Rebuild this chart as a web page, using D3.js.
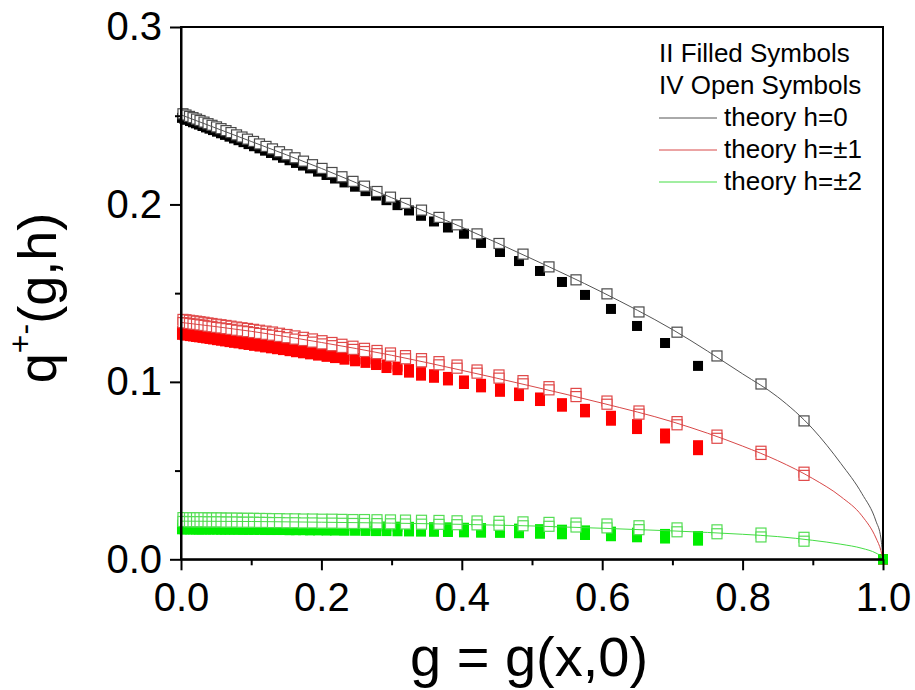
<html>
<head>
  <script src="https://d3js.org/d3.v7.min.js"></script>
  <style>
    body{ margin:0; background:#fff; }
    svg{ display:block; font-family:"Liberation Sans", Arial, sans-serif; }
  </style>
</head>
<body>
  <script type="text/javascript">

    // g positions of the open (IV) and filled (II) symbols
    var gOpen = [0.0028,0.0071,0.0121,0.0171,0.0221,0.0271,0.0328,0.0385,0.0442,0.0506,0.0570,0.0641,0.0712,0.0791,0.0869,0.0947,0.1033,0.1118,0.1211,0.1303,0.1403,0.1510,0.1624,0.1745,0.1873,0.2009,0.2151,0.2293,0.2450,0.2614,0.2792,0.2984,0.3198,0.3426,0.3675,0.3932,0.4217,0.4530,0.4872,0.5242,0.5627,0.6068,0.6524,0.7066,0.7635,0.8262,0.8875];
    var gFilled = [0.0014,0.0050,0.0085,0.0128,0.0171,0.0214,0.0256,0.0306,0.0356,0.0406,0.0456,0.0513,0.0570,0.0627,0.0691,0.0755,0.0819,0.0890,0.0962,0.1040,0.1118,0.1197,0.1282,0.1368,0.1453,0.1546,0.1638,0.1738,0.1838,0.1952,0.2073,0.2194,0.2329,0.2479,0.2628,0.2778,0.2927,0.3084,0.3248,0.3419,0.3604,0.3803,0.4031,0.4274,0.4544,0.4815,0.5114,0.5427,0.5755,0.6125,0.6496,0.6895,0.7365,1.0];

    // IV, open symbols
    var openH0  = [0.2511,0.2504,0.2496,0.2489,0.2481,0.2473,0.2464,0.2455,0.2446,0.2437,0.2427,0.2416,0.2405,0.2392,0.2380,0.2368,0.2355,0.2341,0.2327,0.2313,0.2297,0.2280,0.2263,0.2244,0.2224,0.2203,0.2180,0.2156,0.2130,0.2103,0.2073,0.2041,0.2006,0.1968,0.1927,0.1885,0.1834,0.1780,0.1720,0.1648,0.1575,0.1496,0.1394,0.1280,0.1146,0.0988,0.0780];
    var openHp1 = [0.1352,0.1350,0.1347,0.1344,0.1342,0.1339,0.1336,0.1332,0.1329,0.1325,0.1322,0.1318,0.1314,0.1309,0.1305,0.1301,0.1296,0.1291,0.1286,0.1281,0.1274,0.1267,0.1259,0.1251,0.1242,0.1232,0.1222,0.1212,0.1201,0.1189,0.1177,0.1163,0.1148,0.1131,0.1114,0.1095,0.1067,0.1039,0.1007,0.0973,0.0935,0.0892,0.0836,0.0776,0.0700,0.0609,0.0491];
    var openHm1 = [0.1334,0.1332,0.1329,0.1326,0.1324,0.1321,0.1318,0.1314,0.1311,0.1307,0.1304,0.1300,0.1296,0.1291,0.1287,0.1283,0.1278,0.1273,0.1268,0.1263,0.1256,0.1249,0.1241,0.1233,0.1224,0.1214,0.1204,0.1194,0.1183,0.1171,0.1159,0.1145,0.1130,0.1113,0.1096,0.1077,0.1049,0.1021,0.0989,0.0955,0.0917,0.0874,0.0818,0.0758,0.0682,0.0591,0.0473];
    var openHp2 = [0.0235,0.0235,0.0234,0.0234,0.0234,0.0234,0.0234,0.0233,0.0233,0.0233,0.0233,0.0232,0.0232,0.0232,0.0231,0.0231,0.0231,0.0230,0.0230,0.0229,0.0229,0.0228,0.0228,0.0227,0.0227,0.0226,0.0226,0.0225,0.0224,0.0224,0.0223,0.0222,0.0221,0.0220,0.0219,0.0217,0.0216,0.0214,0.0211,0.0208,0.0204,0.0199,0.0189,0.0177,0.0166,0.0148,0.0124];
    var openHm2 = [0.0213,0.0213,0.0212,0.0212,0.0212,0.0212,0.0212,0.0211,0.0211,0.0211,0.0211,0.0210,0.0210,0.0210,0.0209,0.0209,0.0209,0.0208,0.0208,0.0207,0.0207,0.0206,0.0206,0.0205,0.0205,0.0204,0.0204,0.0203,0.0202,0.0202,0.0201,0.0200,0.0199,0.0198,0.0197,0.0195,0.0194,0.0192,0.0189,0.0186,0.0182,0.0177,0.0167,0.0155,0.0144,0.0126,0.0102];

    // II, filled symbols
    var filledH0  = [0.2488,0.2482,0.2477,0.2470,0.2463,0.2457,0.2450,0.2442,0.2434,0.2427,0.2419,0.2410,0.2401,0.2392,0.2382,0.2372,0.2362,0.2351,0.2340,0.2328,0.2316,0.2303,0.2290,0.2277,0.2263,0.2249,0.2234,0.2219,0.2203,0.2185,0.2166,0.2146,0.2124,0.2100,0.2075,0.2050,0.2024,0.1996,0.1966,0.1936,0.1904,0.1870,0.1835,0.1783,0.1732,0.1681,0.1625,0.1563,0.1490,0.1411,0.1315,0.1219,0.1090,0];
    var filledHp1 = [0.1285,0.1283,0.1281,0.1278,0.1276,0.1273,0.1271,0.1268,0.1265,0.1262,0.1259,0.1255,0.1252,0.1248,0.1244,0.1240,0.1237,0.1232,0.1228,0.1223,0.1219,0.1214,0.1209,0.1204,0.1199,0.1193,0.1187,0.1181,0.1175,0.1168,0.1161,0.1154,0.1145,0.1136,0.1127,0.1115,0.1098,0.1086,0.1072,0.1055,0.1043,0.1028,0.1008,0.0989,0.0964,0.0940,0.0912,0.0880,0.0848,0.0809,0.0762,0.0709,0.0643,0];
    var filledHm1 = [0.1265,0.1263,0.1261,0.1258,0.1256,0.1253,0.1251,0.1248,0.1245,0.1242,0.1239,0.1235,0.1232,0.1228,0.1224,0.1220,0.1217,0.1212,0.1208,0.1203,0.1199,0.1194,0.1189,0.1184,0.1179,0.1173,0.1167,0.1161,0.1155,0.1148,0.1141,0.1134,0.1125,0.1116,0.1107,0.1095,0.1078,0.1066,0.1052,0.1035,0.1023,0.1008,0.0988,0.0969,0.0944,0.0920,0.0892,0.0860,0.0828,0.0781,0.0734,0.0681,0.0615,0];
    var filledHp2 = [0.0195,0.0195,0.0195,0.0195,0.0195,0.0194,0.0194,0.0194,0.0194,0.0194,0.0194,0.0194,0.0193,0.0193,0.0193,0.0193,0.0193,0.0192,0.0192,0.0192,0.0192,0.0191,0.0191,0.0191,0.0191,0.0190,0.0190,0.0190,0.0189,0.0189,0.0188,0.0188,0.0187,0.0187,0.0186,0.0185,0.0185,0.0184,0.0183,0.0182,0.0181,0.0180,0.0178,0.0176,0.0175,0.0173,0.0170,0.0167,0.0163,0.0156,0.0150,0.0143,0.0131,0];
    var filledHm2 = [0.0169,0.0169,0.0169,0.0169,0.0169,0.0168,0.0168,0.0168,0.0168,0.0168,0.0168,0.0168,0.0167,0.0167,0.0167,0.0167,0.0167,0.0166,0.0166,0.0166,0.0166,0.0165,0.0165,0.0165,0.0165,0.0164,0.0164,0.0164,0.0163,0.0163,0.0162,0.0162,0.0161,0.0161,0.0160,0.0159,0.0159,0.0158,0.0157,0.0156,0.0155,0.0154,0.0152,0.0150,0.0149,0.0147,0.0144,0.0141,0.0137,0.0130,0.0124,0.0117,0.0105,0];

    // theory curves
    var theoryG  = [0,0.1,0.2,0.3,0.4,0.5,0.6,0.7,0.8,0.85,0.9,0.94,0.97,0.99,0.997,1];
    var theoryH0 = [0.2505,0.2355,0.2203,0.2038,0.1872,0.1693,0.1505,0.1295,0.1045,0.0915,0.0735,0.0540,0.0370,0.0215,0.0120,0];
    var theoryH1 = [0.1335,0.1285,0.1222,0.1150,0.1065,0.0975,0.0880,0.0775,0.0638,0.0556,0.0455,0.0353,0.0245,0.0120,0.0050,0];
    var theoryH2 = [0.0215,0.0213,0.0209,0.0204,0.0197,0.0188,0.0175,0.0160,0.0141,0.0128,0.0107,0.0085,0.0062,0.0035,0.0018,0.0005];

    var xMajor = [0,0.2,0.4,0.6,0.8,1.0];
    var xMinor = [0.1,0.3,0.5,0.7,0.9];
    var yMajor = [0,0.1,0.2,0.3];
    var yMinor = [0.05,0.15,0.25];

    var legendText = ["II Filled Symbols","IV Open Symbols"];
    var legendLines = ["theory h=0","theory h=\u00b11","theory h=\u00b12"];

    var screen = {width:915, height:690};
    var margins = {top:27, right:32, bottom:130.7, left:181};
    var width = screen.width - margins.left - margins.right;
    var height = screen.height - margins.top - margins.bottom;

    var svg = d3.select("body").append("svg")
        .attr("width", screen.width)
        .attr("height", screen.height);

    var xScale = d3.scaleLinear().domain([0,1]).range([0,width]);
    var yScale = d3.scaleLinear().domain([0,0.3]).range([height,0]);

    var plot = svg.append("g")
        .attr("transform","translate(" + margins.left + "," + margins.top + ")");

    var pts = function(gs, qs){ return gs.map(function(g,i){ return [g, qs[i]]; }); };

    var drawSquares = function(data, fill, stroke){
      plot.append("g").selectAll("rect")
          .data(data)
          .enter()
          .append("rect")
          .attr("x", function(d){ return xScale(d[0]) - 5; })
          .attr("y", function(d){ return yScale(d[1]) - 5; })
          .attr("width", 10)
          .attr("height", 10)
          .attr("fill", fill)
          .attr("stroke", stroke)
          .attr("stroke-width", stroke == "none" ? 0 : 1.2);
    };

    // filled
    drawSquares(pts(gFilled, filledH0), "#000000", "none");
    drawSquares(pts(gFilled, filledHp1), "#ff0000", "none");
    drawSquares(pts(gFilled, filledHm1), "#ff0000", "none");
    drawSquares(pts(gFilled, filledHp2), "#00ee00", "none");
    drawSquares(pts(gFilled, filledHm2), "#00ee00", "none");
    // open
    drawSquares(pts(gOpen, openH0), "#ffffff", "#4a4a4a");
    drawSquares(pts(gOpen, openHp1), "#ffffff", "#e04848");
    drawSquares(pts(gOpen, openHm1), "#ffffff", "#e04848");
    drawSquares(pts(gOpen, openHp2), "#ffffff", "#55dd55");
    drawSquares(pts(gOpen, openHm2), "#ffffff", "#55dd55");

    var line = d3.line()
        .x(function(d){ return xScale(d[0]); })
        .y(function(d){ return yScale(d[1]); })
        .curve(d3.curveMonotoneX);

    var theoryColors = ["#555555","#d84848","#44dd44"];
    [theoryH0, theoryH1, theoryH2].forEach(function(t,i){
      plot.append("path")
          .datum(pts(theoryG, t))
          .attr("d", line)
          .attr("fill","none")
          .attr("stroke", theoryColors[i])
          .attr("stroke-width", 1);
    });

    // axes
    var styleAxis = function(g){
      g.selectAll("path").attr("stroke","#000").attr("stroke-width",2);
      g.selectAll("line").attr("stroke","#000").attr("stroke-width",2);
      g.selectAll("text").attr("font-size",40).attr("fill","#000")
       .attr("font-family",'"Liberation Sans", Arial, sans-serif');
    };

    plot.append("g")
        .attr("transform","translate(0," + height + ")")
        .call(d3.axisBottom(xScale).tickValues(xMinor).tickSize(6).tickFormat(""))
        .call(styleAxis)
        .select(".domain").remove();
    plot.append("g")
        .attr("transform","translate(0," + height + ")")
        .call(d3.axisBottom(xScale).tickValues(xMajor).tickSize(11).tickSizeOuter(0).tickPadding(12).tickFormat(d3.format(".1f")))
        .call(styleAxis);

    plot.append("g")
        .call(d3.axisLeft(yScale).tickValues(yMinor).tickSize(6).tickFormat(""))
        .call(styleAxis)
        .select(".domain").remove();
    plot.append("g")
        .call(d3.axisLeft(yScale).tickValues(yMajor).tickSize(11).tickSizeOuter(0).tickPadding(8).tickFormat(d3.format(".1f")))
        .call(styleAxis);

    // frame
    plot.append("rect")
        .attr("width", width)
        .attr("height", height)
        .attr("fill","none")
        .attr("stroke","#000")
        .attr("stroke-width",2);

    // legend
    var legend = svg.append("g")
        .attr("font-size", 26)
        .attr("fill", "#000");
    legend.selectAll("text.head")
        .data(legendText)
        .enter()
        .append("text")
        .attr("x", 659)
        .attr("y", function(d,i){ return 62 + i*32; })
        .text(function(d){ return d; });
    var legendRows = legend.selectAll("g")
        .data(legendLines)
        .enter()
        .append("g")
        .attr("transform", function(d,i){ return "translate(0," + (126 + i*32) + ")"; });
    legendRows.append("line")
        .attr("x1", 659).attr("x2", 717)
        .attr("y1", -8).attr("y2", -8)
        .attr("stroke", function(d,i){ return theoryColors[i]; })
        .attr("stroke-width", 1);
    legendRows.append("text")
        .attr("x", 724)
        .text(function(d){ return d; });

    // axis titles
    svg.append("text")
        .attr("x", margins.left + width/2 - 3)
        .attr("y", 676)
        .attr("text-anchor","middle")
        .attr("font-size", 56)
        .text("g = g(x,0)");

    var yTitle = svg.append("text")
        .attr("transform","translate(56,298) rotate(-90)")
        .attr("text-anchor","middle")
        .attr("font-size", 54);
    yTitle.append("tspan").text("q");
    yTitle.append("tspan").attr("font-size", 32).attr("dy", -25).text("+");
    yTitle.append("tspan").attr("font-size", 32).attr("dy", 4).text("-");
    yTitle.append("tspan").attr("dy", 21).text("(g,h)");

  </script>
</body>
</html>
